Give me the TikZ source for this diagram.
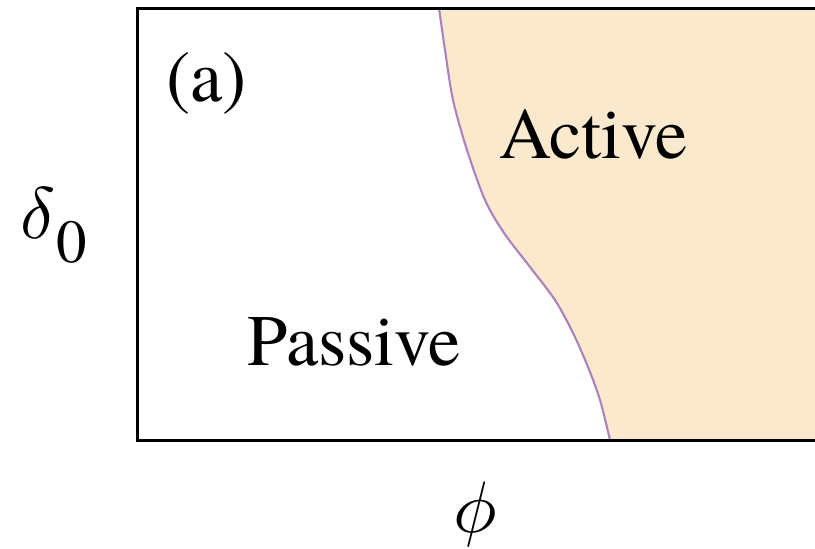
\documentclass[tikz,border=0pt]{standalone}
\usepackage{graphicx}
\usepackage{fontspec}
\newfontfamily\tnr{texgyretermes}[Extension=.otf,UprightFont=*-regular,ItalicFont=*-italic,BoldFont=*-bold]
\definecolor{activefill}{RGB}{250,233,204}
\definecolor{curvecol}{RGB}{172,130,190}
\begin{document}
\begin{tikzpicture}[x=1pt,y=-1pt,
  lbl/.style={inner sep=0pt,font=\tnr\fontsize{72.5}{80}\selectfont},
  frame/.style={line width=3pt,black},
  boundary/.style={line width=2.1pt,curvecol}]
\useasboundingbox (0,0) rectangle (815,549);
\def\bcurve{(439,8) (445,50) (453,100) (467,150) (485,200) (504,233) (530,267) (555,300) (573,333) (588,367) (600,400) (610,440)}
\begin{scope}
\clip (0,0) rectangle (815,549);
\coordinate (tl) at (137,8);
\coordinate (bl) at (137,440);
\coordinate (tr) at (830,8);
\coordinate (br) at (830,440);
\fill[activefill] plot[smooth,tension=0.5] coordinates {\bcurve} -- (br) -- (tr) -- cycle;
\draw[boundary] plot[smooth,tension=0.5] coordinates {\bcurve};
\draw[frame] (tr) -- (tl) -- (bl) -- (br);
\end{scope}
\node[lbl,anchor=base west] (a) at (166,101) {(a)};
\node[lbl,anchor=base west] (active) at (499,158) {Active};
\node[lbl,anchor=base west] (passive) at (247,365) {Passive};
\node[inner sep=0pt,anchor=base west] (delta) at (20,238) {\scalebox{7.3}{$\delta$}};
\node[inner sep=0pt,anchor=base west,font=\tnr\fontsize{61}{70}\selectfont] (zero) at (56,262) {0};
\node[inner sep=0pt,anchor=base] (phi) at (475,532) {\scalebox{7.3}{$\phi$}};
\end{tikzpicture}
\end{document}
